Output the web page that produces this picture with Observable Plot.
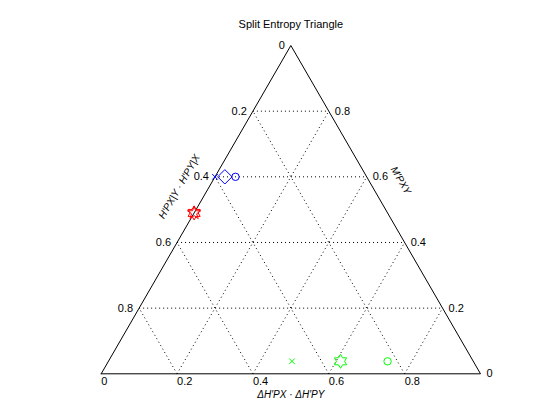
<!DOCTYPE html>
<html>
<head>
<meta charset="utf-8">
<script src="https://cdn.jsdelivr.net/npm/d3@7"></script>
<script src="https://cdn.jsdelivr.net/npm/@observablehq/plot@0.6"></script>
<style>
  html, body { margin: 0; padding: 0; background: #fff; }
  svg { display: block; }
</style>
</head>
<body>
<div id="chart"></div>
<script>
// ---- data ----
const title = "Split Entropy Triangle";
const gridTicks = [0.2, 0.4, 0.6, 0.8];
const axisTickLabels = [0, 0.2, 0.4, 0.6, 0.8];
const bottomTitle = "ΔH′PX · ΔH′PY";
const leftTitle = "H′PX|Y · H′PY|X";
const rightTitle = "M′PXY";

const seriesColor  = ["blue", "blue", "blue", "red", "red", "#00ff00", "#00ff00", "#00ff00"];
const markerSymbol = ["times", "diamond", "circle", "pentagram", "hexagram", "times", "hexagram", "circle"];
const deltaH       = [0, 0.026, 0.054, 0, 0, 0.484, 0.612, 0.736];   // bottom component
const mutualM      = [0.6, 0.6, 0.6, 0.49, 0.49, 0.038, 0.038, 0.038]; // right component

// ---- ternary -> cartesian ----
const S3 = Math.sqrt(3) / 2;
const tx = (dH, M) => dH + M / 2;
const ty = (dH, M) => M * S3;

// ---- custom MATLAB-like symbols ----
function starPath(ctx, n, R, rIn, rot) {
  for (let i = 0; i < 2 * n; i++) {
    const rr = i % 2 === 0 ? R : rIn;
    const a = rot + i * Math.PI / n;
    const px = rr * Math.cos(a), py = rr * Math.sin(a);
    if (i === 0) ctx.moveTo(px, py); else ctx.lineTo(px, py);
  }
  ctx.closePath();
}
const symbols = {
  times: { draw(ctx, size) { const R = Math.sqrt(size / Math.PI);
    ctx.moveTo(-R, -R); ctx.lineTo(R, R); ctx.moveTo(-R, R); ctx.lineTo(R, -R); } },
  diamond: { draw(ctx, size) { const R = Math.sqrt(size / Math.PI);
    ctx.moveTo(0, -R); ctx.lineTo(R, 0); ctx.lineTo(0, R); ctx.lineTo(-R, 0); ctx.closePath(); } },
  circle: { draw(ctx, size) { const R = Math.sqrt(size / Math.PI);
    ctx.moveTo(R, 0); ctx.arc(0, 0, R, 0, 2 * Math.PI); } },
  pentagram: { draw(ctx, size) { const R = Math.sqrt(size / Math.PI);
    starPath(ctx, 5, R, R * 0.382, -Math.PI / 2); } },
  hexagram: { draw(ctx, size) { const R = Math.sqrt(size / Math.PI);
    starPath(ctx, 6, R, R / Math.sqrt(3), -Math.PI / 2); } }
};
const symbolRadius = { times: 2.8, diamond: 7.2, circle: 3.7, pentagram: 7, hexagram: 7 };

// ---- build tables ----
const points = deltaH.map((d, i) => ({
  x: tx(d, mutualM[i]), y: ty(d, mutualM[i]), color: seriesColor[i], sym: markerSymbol[i]
}));

const gridLines = [];
for (const t of gridTicks) {
  // constant M (horizontal)
  gridLines.push({ x1: tx(0, t), y1: ty(0, t), x2: tx(1 - t, t), y2: ty(1 - t, t) });
  // constant dH (parallel to left edge)
  gridLines.push({ x1: tx(t, 0), y1: ty(t, 0), x2: tx(t, 1 - t), y2: ty(t, 1 - t) });
  // constant VI (parallel to right edge)
  gridLines.push({ x1: tx(1 - t, 0), y1: ty(1 - t, 0), x2: tx(0, 1 - t), y2: ty(0, 1 - t) });
}
const frame = [[0, 0], [1, 0], [0, 1], [0, 0]].map(([d, m]) => ({ x: tx(d, m), y: ty(d, m) }));

const leftLabels = axisTickLabels.map(v => ({ x: tx(0, 1 - v), y: ty(0, 1 - v), text: String(v) }));
const rightLabels = axisTickLabels.map(v => ({ x: tx(1 - v, v), y: ty(1 - v, v), text: String(v) }));
const bottomLabels = axisTickLabels.map(v => ({ x: tx(v, 0), y: ty(v, 0), text: String(v) }));

const font = "Liberation Sans, Arial, Helvetica, sans-serif";

const symbolMarks = Object.keys(symbols).map(k =>
  Plot.dot(points.filter(p => p.sym === k), {
    x: "x", y: "y", symbol: symbols[k], r: symbolRadius[k],
    stroke: "color", fill: "none", strokeWidth: 1
  })
);

const chart = Plot.plot({
  width: 560,
  height: 420,
  marginLeft: 100.7,
  marginRight: 80,
  marginTop: 45,
  marginBottom: 46.7,
  x: { domain: [0, 1], axis: null },
  y: { domain: [0, S3], axis: null },
  color: { type: "identity" },
  style: { fontFamily: font, background: "#fff" },
  marks: [
    Plot.link(gridLines, { x1: "x1", y1: "y1", x2: "x2", y2: "y2",
      stroke: "black", strokeWidth: 1, strokeDasharray: "1,3" }),
    Plot.line(frame, { x: "x", y: "y", stroke: "black", strokeWidth: 1 }),
    ...symbolMarks,
    Plot.text(leftLabels, { x: "x", y: "y", text: "text", textAnchor: "end", dx: -6, fontSize: 11, fill: "black" }),
    Plot.text(rightLabels, { x: "x", y: "y", text: "text", textAnchor: "start", dx: 6, fontSize: 11, fill: "black" }),
    Plot.text(bottomLabels, { x: "x", y: "y", text: "text", textAnchor: "start", dy: 8, fontSize: 11, fill: "black" }),
    Plot.text([title], { frameAnchor: "top", dy: -25, text: d => d, fontSize: 11, fill: "black" }),
    Plot.text([bottomTitle], { x: tx(0.5, 0), y: 0, text: d => d, dy: 21, fontSize: 10, fontStyle: "italic", fill: "black" }),
    Plot.text([leftTitle], { x: tx(0, 0.57), y: ty(0, 0.57), text: d => d, dx: -30, rotate: -60, fontSize: 10, fontStyle: "italic", fill: "black" }),
    Plot.text([rightTitle], { x: tx(0.411, 0.589), y: ty(0.411, 0.589), text: d => d, dx: 32, rotate: 60, fontSize: 10, fontStyle: "italic", fill: "black" })
  ]
});
document.getElementById("chart").appendChild(chart);
</script>
</body>
</html>
